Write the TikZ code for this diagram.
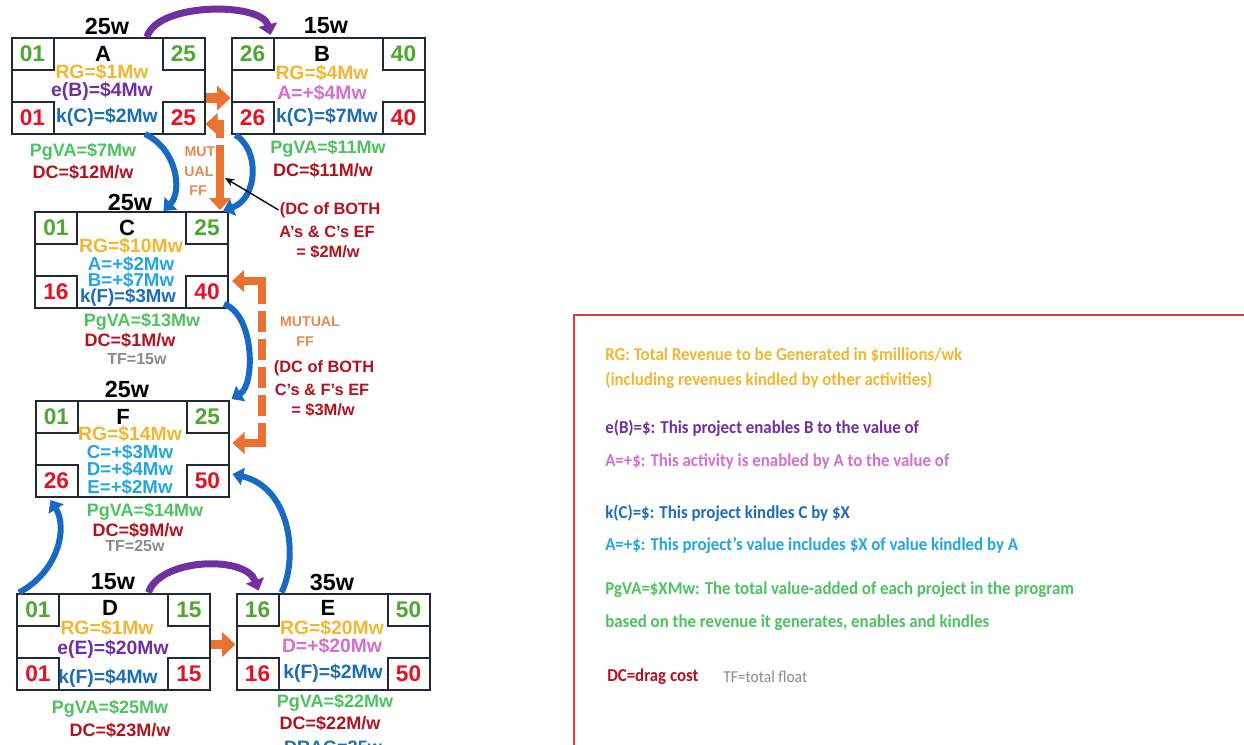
\documentclass[tikz,border=0pt]{standalone}
\usepackage{fontspec}
\setmainfont{Liberation Sans}
\newfontfamily\legendfont[FakeStretch=0.93]{Carlito}
\usetikzlibrary{arrows.meta,calc}

\definecolor{boxline}{HTML}{1F2A36}
\definecolor{numgreen}{HTML}{4EA72E}
\definecolor{numred}{HTML}{E81123}
\definecolor{rgyellow}{HTML}{F2B630}
\definecolor{epurple}{HTML}{7030A0}
\definecolor{apink}{HTML}{D36FCF}
\definecolor{kblue}{HTML}{1B6DB5}
\definecolor{kcyan}{HTML}{22A6DE}
\definecolor{pggreen}{HTML}{4CC35E}
\definecolor{dcred}{HTML}{B3121E}
\definecolor{tfgray}{HTML}{8A8A8A}
\definecolor{fforange}{HTML}{E97132}
\definecolor{fftext}{HTML}{E38A52}
\definecolor{arcblue}{HTML}{1769C4}
\definecolor{legred}{HTML}{E03A3A}

% four start/finish boxes in the corners of an activity box
\newcommand\actcorners[5]{%
  \node[corner,text=numgreen,anchor=north west] (#1es) at (#1.north west) {#2};
  \node[corner,text=numgreen,anchor=north east] (#1ef) at (#1.north east) {#3};
  \node[corner,text=numred,anchor=south west] (#1ls) at (#1.south west) {#4};
  \node[corner,text=numred,anchor=south east] (#1lf) at (#1.south east) {#5};
}

\begin{document}
\begin{tikzpicture}[x=0.75pt,y=-0.75pt,
  act/.style={draw=boxline,line width=1.5pt,minimum width=144.75pt,minimum height=72pt,inner sep=0pt},
  corner/.style={draw=boxline,line width=1.5pt,minimum width=31.5pt,minimum height=24pt,inner sep=0pt,
    font=\fontsize{17}{17}\selectfont\bfseries},
  durlbl/.style={inner sep=0pt,font=\fontsize{17.5}{18}\selectfont\bfseries},
  titlelbl/.style={inner sep=0pt,font=\fontsize{16.5}{17}\selectfont\bfseries},
  inlbl/.style={inner sep=0pt,font=\fontsize{14.5}{15}\selectfont\bfseries},
  stacklbl/.style={inner sep=0pt,font=\fontsize{14}{14}\selectfont\bfseries},
  outlbl/.style={inner sep=0pt,font=\fontsize{13.5}{14}\selectfont\bfseries},
  notelbl/.style={inner sep=0pt,text=dcred,font=\fontsize{12.3}{13}\selectfont\bfseries},
  fflbl/.style={inner sep=0pt,text=fftext,font=\fontsize{10.6}{11}\selectfont\bfseries},
  tflbl/.style={inner sep=0pt,text=tfgray,font=\fontsize{12}{12}\selectfont\bfseries},
  leglbl/.style={inner sep=0pt,anchor=west,font=\fontsize{13.6}{14}\legendfont\bfseries},
  karc/.style={draw=arcblue,line width=4.5pt,-{Triangle[width=13pt,length=8pt]}},
  earc/.style={draw=epurple,line width=5.25pt,-{Triangle[width=14pt,length=8pt]}},
  fatarrow/.style={draw=fforange,line width=7pt,-{Triangle[width=18pt,length=10pt]}},
  mutual/.style={draw=fforange,line width=6pt,line join=miter,
    {Triangle[width=16pt,length=9pt]}-{Triangle[width=16pt,length=9pt]}},
]
\path[use as bounding box] (0,0) rectangle (1244,744);
\clip (0,0) rectangle (1244,744);
\fill[white] (0,0) rectangle (1244,744);

% ---------- activity boxes ----------
\node[act] (A) at (108,86) {};
\actcorners{A}{01}{25}{01}{25}
\node[act] (B) at (328,86) {};
\actcorners{B}{26}{40}{26}{40}
\node[act] (C) at (131.5,260) {};
\actcorners{C}{01}{25}{16}{40}
\node[act] (F) at (132,449) {};
\actcorners{F}{01}{25}{26}{50}
\node[act] (D) at (113.5,641.5) {};
\actcorners{D}{01}{15}{01}{15}
\node[act] (E) at (333,641.5) {};
\actcorners{E}{16}{50}{16}{50}

% ---------- activity A ----------
\node[durlbl] (Adur) at (107,26) {25w};
\node[titlelbl] (Aname) at (103,54) {A};
\node[inlbl,text=rgyellow] (Arg) at (102,72) {RG=\$1Mw};
\node[inlbl,text=epurple] (Ae) at (102,91) {e(B)=\$4Mw};
\node[inlbl,text=kblue] (Ak) at (107,117) {k(C)=\$2Mw};
\node[outlbl,text=pggreen] (Apg) at (83,152) {PgVA=\$7Mw};
\node[outlbl,text=dcred] (Adc) at (83,172) {DC=\$12M/w};

% ---------- activity B ----------
\node[durlbl] (Bdur) at (326,26) {15w};
\node[titlelbl] (Bname) at (322,54) {B};
\node[inlbl,text=rgyellow] (Brg) at (322,73) {RG=\$4Mw};
\node[inlbl,text=apink] (Ba) at (322,93) {A=+\$4Mw};
\node[inlbl,text=kblue] (Bk) at (327,117) {k(C)=\$7Mw};
\node[outlbl,text=pggreen] (Bpg) at (328,149) {PgVA=\$11Mw};
\node[outlbl,text=dcred] (Bdc) at (323,170) {DC=\$11M/w};

% ---------- activity C ----------
\node[durlbl] (Cdur) at (130,202) {25w};
\node[titlelbl] (Cname) at (127,228) {C};
\node[inlbl,text=rgyellow] (Crg) at (131,246) {RG=\$10Mw};
\node[stacklbl,text=kcyan] (Ca) at (131,264) {A=+\$2Mw};
\node[stacklbl,text=kcyan] (Cb) at (131,280) {B=+\$7Mw};
\node[stacklbl,text=kblue] (Ck) at (128,297) {k(F)=\$3Mw};
\node[outlbl,text=pggreen] (Cpg) at (142,322) {PgVA=\$13Mw};
\node[outlbl,text=dcred] (Cdc) at (130,340) {DC=\$1M/w};
\node[tflbl] (Ctf) at (137,359) {TF=15w};

% ---------- activity F ----------
\node[durlbl] (Fdur) at (127,389) {25w};
\node[titlelbl] (Fname) at (123,417) {F};
\node[inlbl,text=rgyellow] (Frg) at (130,434) {RG=\$14Mw};
\node[stacklbl,text=kcyan] (Fc) at (130,452) {C=+\$3Mw};
\node[stacklbl,text=kcyan] (Fd) at (130,469) {D=+\$4Mw};
\node[stacklbl,text=kcyan] (Fe) at (130,487) {E=+\$2Mw};
\node[outlbl,text=pggreen] (Fpg) at (145,512) {PgVA=\$14Mw};
\node[outlbl,text=dcred] (Fdc) at (138,530) {DC=\$9M/w};
\node[tflbl] (Ftf) at (135,546) {TF=25w};

% ---------- activity D ----------
\node[durlbl] (Ddur) at (113,582) {15w};
\node[titlelbl] (Dname) at (110,608) {D};
\node[inlbl,text=rgyellow] (Drg) at (107,628) {RG=\$1Mw};
\node[inlbl,text=epurple] (De) at (113,649) {e(E)=\$20Mw};
\node[inlbl,text=kblue] (Dk) at (108,678) {k(F)=\$4Mw};
\node[outlbl,text=pggreen] (Dpg) at (110,709) {PgVA=\$25Mw};
\node[outlbl,text=dcred] (Ddc) at (120,730) {DC=\$23M/w};

% ---------- activity E ----------
\node[durlbl] (Edur) at (332,582) {35w};
\node[titlelbl] (Ename) at (328,608) {E};
\node[inlbl,text=rgyellow] (Erg) at (332,628) {RG=\$20Mw};
\node[inlbl,text=apink] (Ed) at (332,646) {D=+\$20Mw};
\node[inlbl,text=kblue] (Ek) at (333,673) {k(F)=\$2Mw};
\node[outlbl,text=pggreen] (Epg) at (335,703) {PgVA=\$22Mw};
\node[outlbl,text=dcred] (Edc) at (330,723) {DC=\$22M/w};
\node[outlbl,text=kblue] (Edrag) at (333,747) {DRAG=25w};

% ---------- finish-to-finish notes ----------
\node[fflbl] (ff1a) at (200,152) {MUT};
\node[fflbl] (ff1b) at (199,172) {UAL};
\node[fflbl] (ff1c) at (198,191) {FF};
\node[notelbl] (n1a) at (330,210) {(DC of BOTH};
\node[notelbl] (n1b) at (327,232) {A’s \& C’s EF};
\node[notelbl] (n1c) at (328,252) {= \$2M/w};
\node[fflbl] (ff2a) at (310,322) {MUTUAL};
\node[fflbl] (ff2b) at (305,342) {FF};
\node[notelbl] (n2a) at (324,368) {(DC of BOTH};
\node[notelbl] (n2b) at (322,390) {C’s \& F’s EF};
\node[notelbl] (n2c) at (323,410) {= \$3M/w};

% ---------- enabling arcs ----------
\draw[earc] ($(A.north)+(39,0)$) .. controls (157,2) and (262,2) .. ($(Bes.north east)+(-4,-2)$);
\draw[earc] ($(D.north)+(35,0)$) .. controls (160,558) and (246,555) .. ($(Ees.north east)+(-21,-2)$);

% ---------- kindling arcs ----------
\draw[karc] ($(A.south)+(37,-1)$) .. controls (178,150) and (182,192) .. ($(C.north)+(32,0)$);
\draw[karc] ($(B.south west)+(5,0)$) .. controls (260,150) and (258,198) .. ($(C.north east)+(-6,0)$);
\draw[karc] ($(C.south east)+(-5,-5)$) .. controls (255,315) and (255,385) .. ($(F.north east)+(2,-1)$);
\draw[karc] ($(D.north west)+(3,0)$) .. controls (58,572) and (68,528) .. ($(F.south west)+(16,2)$);
\draw[karc] ($(E.north west)+(46,0)$) .. controls (298,560) and (292,488) .. ($(F.east)+(3,25)$);

% ---------- finish-to-start links ----------
\draw[fatarrow] ($(A.east)+(0,12)$) -- ($(B.west)+(0,12)$);
\draw[fatarrow] ($(D.east)+(0,3)$) -- ($(E.west)+(0,3)$);

% ---------- mutual finish-to-finish links ----------
\coordinate (m1a) at ($(A.east)+(0,38)$);
\coordinate (m1b) at ($(C.north east)+(-9,-1)$);
\draw[mutual,dash pattern=on 13pt off 5.5pt on 200pt] (m1a) -- (m1a -| m1b) -- (m1b);
\coordinate (m2a) at ($(C.east)+(3,21)$);
\coordinate (m2b) at ($(F.east)+(3,-6)$);
\draw[mutual,dash pattern=on 31.5pt off 5.25pt on 15.75pt off 5.25pt on 15.75pt off 5.25pt on 15.75pt off 5.25pt on 15.75pt off 5.25pt on 40pt]
  (m2a) -- ++(30,0) |- (m2b);

% pointer from the first note to the mutual link
\coordinate (m1mid) at (225,178);
\draw[line width=1pt,-{Stealth[length=7pt,width=6pt]}] ($(n1a.west)+(-1,0)$) -- (m1mid);

% ---------- legend ----------
\draw[legred,line width=1.2pt] (574,315) rectangle (1260,760);
\node[leglbl,text=rgyellow] (leg1) at (605,355) {RG: Total Revenue to be Generated in \$millions/wk};
\node[leglbl,text=rgyellow] (leg2) at (605,380) {(including revenues kindled by other activities)};
\node[leglbl,text=epurple] (leg3) at (605,428) {e(B)=\$: This project enables B to the value of};
\node[leglbl,text=apink] (leg4) at (605,462) {A=+\$: This activity is enabled by A to the value of};
\node[leglbl,text=kblue] (leg5) at (605,513) {k(C)=\$: This project kindles C by \$X};
\node[leglbl,text=kcyan] (leg6) at (605,545) {A=+\$: This project’s value includes \$X of value kindled by A};
\node[leglbl,text=pggreen] (leg7) at (605,590) {PgVA=\$XMw: The total value-added of each project in the program};
\node[leglbl,text=pggreen] (leg8) at (605,623) {based on the revenue it generates, enables and kindles};
\node[leglbl,text=dcred] (leg9) at (607,677) {DC=drag cost};
\node[leglbl,text=tfgray,font=\fontsize{12.5}{13}\legendfont] (leg10) at (723,677) {TF=total float};
\end{tikzpicture}
\end{document}
